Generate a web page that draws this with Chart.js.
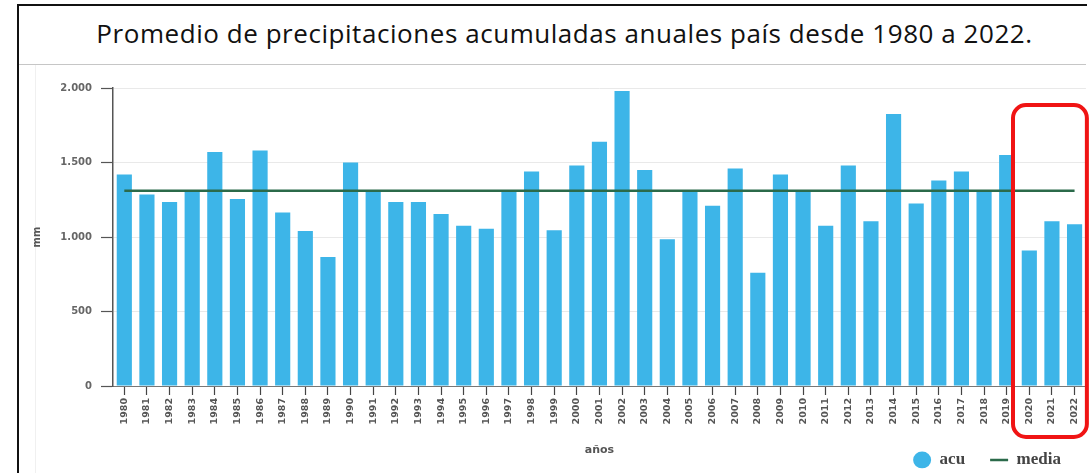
<!DOCTYPE html>
<html>
<head>
<meta charset="utf-8">
<script src="https://cdn.jsdelivr.net/npm/chart.js@4.4.1/dist/chart.umd.min.js"></script>
<style>
  html, body { margin: 0; padding: 0; background: #fff; overflow: hidden; }
  #wrap { position: relative; width: 1089px; height: 473px; overflow: hidden; background: #fff; }
  #frame { position: absolute; left: 17px; top: 4px; width: 1068px; height: 480px;
           border-left: 2px solid #111; border-top: 2px solid #111; }
  #sep { position: absolute; left: 19px; top: 64px; width: 1067px; height: 1px; background: #c6c6c6; }
  #faint { position: absolute; left: 35px; top: 65px; width: 1px; height: 410px; background: #f0f0f0; }
  #title { position: absolute; left: 0; top: 15px; width: 1129px; text-align: center;
           font-family: 'Open Sans', sans-serif; font-size: 26px; letter-spacing: 0.55px;
           color: #111; white-space: nowrap; }
  #chart { position: absolute; left: 0; top: 0; }
</style>
</head>
<body>
<div id="wrap">
  <div id="frame"></div>
  <div id="sep"></div>
  <div id="faint"></div>
  <div id="title">Promedio de precipitaciones acumuladas anuales país desde 1980 a 2022.</div>
  <canvas id="chart" width="1089" height="473"></canvas>
</div>
<script>
// Años de la serie
const years = ['1980','1981','1982','1983','1984','1985','1986','1987','1988','1989',
               '1990','1991','1992','1993','1994','1995','1996','1997','1998','1999',
               '2000','2001','2002','2003','2004','2005','2006','2007','2008','2009',
               '2010','2011','2012','2013','2014','2015','2016','2017','2018','2019',
               '2020','2021','2022'];

// Precipitación acumulada anual (mm)
const acu = [1420, 1285, 1235, 1305, 1570, 1255, 1580, 1165, 1040, 865,
             1500, 1310, 1235, 1235, 1155, 1075, 1055, 1310, 1440, 1045,
             1480, 1640, 1980, 1450, 985, 1310, 1210, 1460, 760, 1420,
             1310, 1075, 1480, 1105, 1825, 1225, 1380, 1440, 1305, 1550,
             910, 1105, 1085];

// Media del período (mm)
const media = 1310;

// Marcas del eje vertical
const yTicks = [0, 500, 1000, 1500, 2000];

// Años resaltados
const highlightYears = ['2020', '2021', '2022'];

const fmtMiles = v => String(v).replace(/\B(?=(\d{3})+(?!\d))/g, '.');

const PAD_BOTTOM = 4.5;
const PLOT_BOTTOM = 386;

// Recuadro rojo alrededor de los años resaltados
const highlightBox = {
  id: 'highlightBox',
  afterDraw(chart) {
    const x = chart.scales.x;
    const area = chart.chartArea;
    const i0 = years.indexOf(highlightYears[0]);
    const i1 = years.indexOf(highlightYears[highlightYears.length - 1]);
    const half = (x.getPixelForValue(1) - x.getPixelForValue(0)) / 2;
    const left = x.getPixelForValue(i0) - half - 5;
    const right = x.getPixelForValue(i1) + half + 1;
    const top = area.top + 17;
    const bottom = area.bottom + 51;
    const r = 13;
    const ctx = chart.ctx;
    ctx.save();
    ctx.strokeStyle = '#f01414';
    ctx.lineWidth = 4;
    ctx.beginPath();
    ctx.roundRect(left, top, right - left, bottom - top, r);
    ctx.stroke();
    ctx.restore();
  }
};

new Chart(document.getElementById('chart'), {
  data: {
    labels: years,
    datasets: [
      {
        type: 'bar',
        label: 'acu',
        data: acu,
        backgroundColor: '#3db5e8',
        borderWidth: 0,
        barPercentage: 0.67,
        categoryPercentage: 1.0,
        pointStyle: 'circle',
        order: 1
      },
      {
        type: 'line',
        label: 'media',
        data: [{ x: years[0], y: media }, { x: years[years.length - 1], y: media }],
        borderColor: '#2b6a4a',
        backgroundColor: '#2b6a4a',
        borderWidth: 2.5,
        pointRadius: 0,
        pointStyle: 'line',
        fill: false,
        order: 0
      }
    ]
  },
  options: {
    responsive: false,
    animation: false,
    devicePixelRatio: 1,
    layout: { padding: { left: 20, top: 88, right: 3, bottom: PAD_BOTTOM } },
    plugins: {
      tooltip: { enabled: false },
      legend: {
        position: 'bottom',
        align: 'end',
        maxHeight: 42,
        labels: {
          usePointStyle: true,
          pointStyleWidth: 18,
          boxHeight: 12,
          padding: 25,
          color: '#444',
          font: { family: "'Liberation Serif', serif", size: 17, weight: 'bold' },
          sort: (a, b) => a.datasetIndex - b.datasetIndex
        }
      }
    },
    scales: {
      x: {
        type: 'category',
        offset: true,
        grid: { display: true, drawOnChartArea: false, offset: false, tickLength: 9, tickColor: '#444', tickWidth: 1.2 },
        border: { display: true, color: '#777', width: 1 },
        ticks: {
          autoSkip: false,
          minRotation: 90,
          maxRotation: 90,
          padding: 3,
          color: '#555',
          font: { family: "'DejaVu Sans', sans-serif", size: 9.5, weight: 'bold' }
        },
        title: {
          display: true,
          text: 'años',
          color: '#555',
          padding: { top: 4, bottom: -30 },
          font: { family: "'DejaVu Sans', sans-serif", size: 11, weight: 'bold' }
        },
        afterFit(scale) {
          const lg = scale.chart.legend;
          const lh = lg ? lg.height : 0;
          scale.height = scale.chart.height - PAD_BOTTOM - lh - PLOT_BOTTOM;
        }
      },
      y: {
        type: 'linear',
        min: 0,
        max: 2000,
        afterBuildTicks(scale) {
          scale.ticks = yTicks.map(v => ({ value: v }));
        },
        grid: { color: '#e9e9e9', lineWidth: 1, tickLength: 12, tickColor: '#555', tickWidth: 1.2 },
        border: { display: true, color: '#555', width: 1.5 },
        ticks: {
          padding: 9,
          color: '#666',
          font: { family: "'DejaVu Sans', sans-serif", size: 10, weight: 'bold' },
          callback: v => fmtMiles(v)
        },
        title: {
          display: true,
          text: 'mm',
          color: '#555',
          padding: { top: 11, bottom: 4 },
          font: { family: "'DejaVu Sans', sans-serif", size: 10, weight: 'bold' }
        },
        afterFit(scale) {
          scale.width = 93;
        }
      }
    }
  },
  plugins: [highlightBox]
});
</script>
</body>
</html>
